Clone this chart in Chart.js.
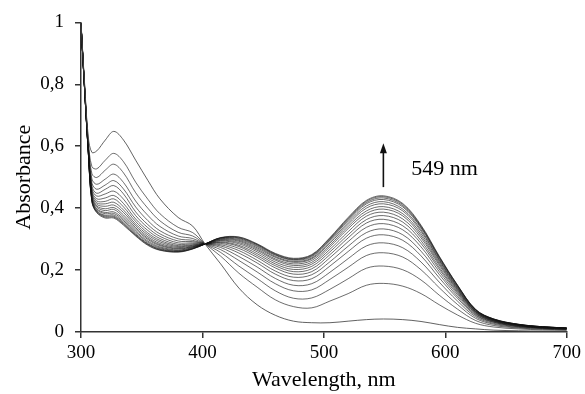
<!DOCTYPE html>
<html>
<head>
<meta charset="utf-8">
<script src="https://cdn.jsdelivr.net/npm/chart.js@4.4.1/dist/chart.umd.min.js"></script>
<style>
  html, body { margin: 0; padding: 0; background: #fff; }
  #wrap { width: 585px; height: 394px; }
</style>
</head>
<body>
<div id="wrap"><canvas id="c" width="585" height="394"></canvas></div>
<script>
// Wavelength sampling points (nm)
const wavelengths = [300,303,306,309,313,320,327,335,345,355,365,380,392,402,415,430,445,460,475,490,505,520,535,549,565,580,595,610,625,640,660,680,700];

// Absorbance spectra, first to last of the titration
const spectrum01 = [1.000,0.800,0.630,0.580,0.585,0.620,0.648,0.620,0.555,0.490,0.430,0.370,0.342,0.285,0.220,0.142,0.088,0.054,0.035,0.030,0.030,0.035,0.040,0.042,0.040,0.034,0.024,0.015,0.010,0.006,0.004,0.003,0.003];
const spectrum02 = [0.999,0.794,0.616,0.534,0.527,0.555,0.577,0.550,0.484,0.429,0.382,0.338,0.321,0.285,0.245,0.190,0.145,0.104,0.082,0.078,0.100,0.124,0.151,0.157,0.148,0.124,0.088,0.055,0.028,0.016,0.010,0.007,0.006];
const spectrum03 = [0.998,0.791,0.609,0.511,0.499,0.523,0.542,0.514,0.450,0.400,0.359,0.322,0.310,0.285,0.257,0.213,0.173,0.133,0.109,0.110,0.138,0.172,0.206,0.213,0.201,0.168,0.119,0.074,0.037,0.021,0.013,0.009,0.007];
const spectrum04 = [0.997,0.789,0.603,0.494,0.477,0.494,0.510,0.483,0.423,0.377,0.341,0.310,0.302,0.285,0.266,0.231,0.194,0.156,0.133,0.136,0.170,0.209,0.247,0.256,0.242,0.201,0.143,0.089,0.044,0.025,0.015,0.011,0.008];
const spectrum05 = [0.997,0.788,0.599,0.481,0.461,0.475,0.489,0.462,0.404,0.360,0.327,0.301,0.296,0.285,0.273,0.244,0.210,0.173,0.151,0.156,0.193,0.237,0.278,0.288,0.272,0.226,0.161,0.100,0.049,0.028,0.017,0.012,0.009];
const spectrum06 = [0.997,0.786,0.596,0.471,0.448,0.461,0.473,0.446,0.388,0.347,0.317,0.294,0.292,0.285,0.278,0.255,0.223,0.187,0.166,0.172,0.213,0.260,0.303,0.314,0.296,0.246,0.175,0.109,0.053,0.031,0.018,0.013,0.010];
const spectrum07 = [0.996,0.785,0.593,0.463,0.439,0.446,0.455,0.429,0.376,0.337,0.309,0.288,0.288,0.285,0.282,0.263,0.232,0.197,0.177,0.185,0.227,0.277,0.321,0.333,0.314,0.261,0.186,0.115,0.056,0.032,0.019,0.013,0.010];
const spectrum08 = [0.996,0.785,0.591,0.456,0.430,0.433,0.441,0.415,0.365,0.328,0.302,0.283,0.285,0.285,0.286,0.270,0.241,0.207,0.187,0.195,0.240,0.292,0.338,0.350,0.330,0.275,0.195,0.121,0.059,0.034,0.020,0.014,0.011];
const spectrum09 = [0.996,0.784,0.590,0.451,0.423,0.422,0.430,0.404,0.357,0.320,0.296,0.279,0.282,0.284,0.289,0.276,0.247,0.214,0.195,0.204,0.250,0.304,0.352,0.364,0.343,0.286,0.203,0.126,0.061,0.035,0.021,0.014,0.011];
const spectrum10 = [0.996,0.783,0.588,0.446,0.417,0.414,0.419,0.394,0.349,0.314,0.291,0.276,0.280,0.284,0.291,0.280,0.253,0.220,0.202,0.212,0.259,0.314,0.363,0.376,0.355,0.295,0.209,0.130,0.063,0.036,0.022,0.015,0.011];
const spectrum11 = [0.996,0.783,0.587,0.441,0.412,0.406,0.410,0.386,0.343,0.308,0.286,0.273,0.278,0.284,0.294,0.285,0.259,0.226,0.209,0.219,0.267,0.324,0.374,0.387,0.365,0.304,0.216,0.134,0.065,0.037,0.022,0.015,0.012];
const spectrum12 = [0.996,0.782,0.585,0.437,0.407,0.398,0.402,0.378,0.337,0.303,0.282,0.270,0.276,0.284,0.296,0.289,0.264,0.232,0.215,0.225,0.275,0.334,0.383,0.397,0.375,0.311,0.221,0.137,0.066,0.038,0.023,0.016,0.012];
const spectrum13 = [0.995,0.782,0.584,0.434,0.403,0.392,0.396,0.371,0.332,0.299,0.279,0.268,0.275,0.284,0.298,0.293,0.268,0.236,0.220,0.231,0.281,0.341,0.391,0.405,0.382,0.318,0.226,0.140,0.067,0.039,0.023,0.016,0.012];
const spectrum14 = [0.995,0.781,0.583,0.430,0.398,0.386,0.388,0.365,0.326,0.294,0.275,0.265,0.273,0.284,0.300,0.296,0.272,0.241,0.225,0.236,0.287,0.348,0.400,0.414,0.391,0.325,0.231,0.143,0.069,0.040,0.024,0.016,0.012];
const spectrum15 = [0.995,0.781,0.582,0.428,0.395,0.382,0.383,0.360,0.322,0.290,0.272,0.263,0.272,0.284,0.301,0.299,0.276,0.244,0.228,0.239,0.292,0.354,0.407,0.421,0.397,0.330,0.234,0.145,0.070,0.040,0.024,0.016,0.013];
const spectrum16 = [0.995,0.781,0.582,0.425,0.391,0.377,0.378,0.355,0.317,0.286,0.269,0.261,0.270,0.284,0.303,0.302,0.279,0.248,0.232,0.243,0.297,0.360,0.414,0.428,0.404,0.336,0.238,0.148,0.071,0.041,0.024,0.017,0.013];
const spectrum17 = [0.995,0.780,0.581,0.423,0.389,0.374,0.374,0.351,0.314,0.284,0.267,0.260,0.269,0.284,0.304,0.304,0.282,0.250,0.234,0.246,0.300,0.364,0.418,0.433,0.408,0.339,0.241,0.150,0.072,0.041,0.025,0.017,0.013];
const spectrum18 = [0.995,0.780,0.580,0.421,0.387,0.371,0.371,0.348,0.312,0.282,0.265,0.259,0.269,0.284,0.304,0.306,0.283,0.252,0.236,0.248,0.303,0.367,0.422,0.437,0.412,0.342,0.243,0.151,0.072,0.042,0.025,0.017,0.013];
const spectrum19 = [0.995,0.780,0.580,0.420,0.385,0.368,0.368,0.345,0.310,0.280,0.264,0.258,0.268,0.284,0.305,0.307,0.285,0.254,0.238,0.250,0.305,0.370,0.425,0.440,0.415,0.345,0.245,0.152,0.073,0.042,0.025,0.017,0.013];

const spectra = [spectrum01,spectrum02,spectrum03,spectrum04,spectrum05,spectrum06,spectrum07,spectrum08,spectrum09,spectrum10,
                 spectrum11,spectrum12,spectrum13,spectrum14,spectrum15,spectrum16,spectrum17,spectrum18,spectrum19];

// Axis ticks and labels
const xTicks = [300, 400, 500, 600, 700];
const yTicks = [0, 0.2, 0.4, 0.6, 0.8, 1];
const yTickLabels = ['0', '0,2', '0,4', '0,6', '0,8', '1'];
const xTitle = 'Wavelength, nm';
const yTitle = 'Absorbance';

// Annotation (data coordinates)
const peakLabel = '549 nm';
const peakWavelength = 549;
const arrowFromAbs = 0.468;
const arrowToAbs = 0.610;
const labelWavelength = 572;
const labelAbs = 0.527;

const serif = "'Liberation Serif', 'Times New Roman', serif";

const datasets = spectra.map((s, i) => ({
  label: 'Spectrum ' + (i + 1),
  data: wavelengths.map((w, j) => ({ x: w, y: s[j] })),
  borderColor: i === 0 ? 'rgba(70,70,70,0.85)' : 'rgba(20,20,20,0.62)',
  borderWidth: 1,
  pointRadius: 0,
  fill: false,
  tension: 0.35
}));

const annotationPlugin = {
  id: 'peakArrow',
  afterDatasetsDraw(chart) {
    const { ctx, scales: { x, y } } = chart;
    const ax = x.getPixelForValue(peakWavelength);
    const y0 = y.getPixelForValue(arrowFromAbs);
    const y1 = y.getPixelForValue(arrowToAbs);
    ctx.save();
    ctx.strokeStyle = '#111';
    ctx.fillStyle = '#111';
    ctx.lineWidth = 1.6;
    ctx.beginPath();
    ctx.moveTo(ax, y0);
    ctx.lineTo(ax, y1 + 8);
    ctx.stroke();
    ctx.beginPath();
    ctx.moveTo(ax, y1);
    ctx.lineTo(ax - 3.5, y1 + 10);
    ctx.lineTo(ax + 3.5, y1 + 10);
    ctx.closePath();
    ctx.fill();
    ctx.font = '22px ' + serif;
    ctx.textAlign = 'left';
    ctx.textBaseline = 'middle';
    ctx.fillStyle = '#000';
    ctx.fillText(peakLabel, x.getPixelForValue(labelWavelength), y.getPixelForValue(labelAbs));
    ctx.restore();
  }
};

new Chart(document.getElementById('c'), {
  type: 'line',
  data: { datasets },
  plugins: [annotationPlugin],
  options: {
    responsive: false,
    animation: false,
    devicePixelRatio: 1,
    layout: { padding: { left: 0, right: 16, top: 21, bottom: 0 } },
    plugins: { legend: { display: false }, tooltip: { enabled: false } },
    scales: {
      x: {
        type: 'linear',
        min: xTicks[0],
        max: xTicks[xTicks.length - 1],
        afterBuildTicks: (scale) => { scale.ticks = xTicks.map(v => ({ value: v })); },
        afterFit: (scale) => { scale.height = 62; },
        ticks: { font: { family: serif, size: 19 }, color: '#000', padding: 4, maxRotation: 0, autoSkip: false },
        grid: { drawOnChartArea: false, drawTicks: true, tickLength: 6, color: '#333', lineWidth: 1.5 },
        border: { display: true, color: '#333', width: 1.5 },
        title: { display: true, text: xTitle, font: { family: serif, size: 22 }, color: '#000', padding: { top: 0, bottom: 1 } }
      },
      y: {
        min: yTicks[0],
        max: yTicks[yTicks.length - 1],
        afterBuildTicks: (scale) => { scale.ticks = yTicks.map(v => ({ value: v })); },
        afterFit: (scale) => { scale.width = 81; },
        ticks: {
          font: { family: serif, size: 19 }, color: '#000', padding: 11, autoSkip: false,
          callback: (v, i) => yTickLabels[i]
        },
        grid: { drawOnChartArea: false, drawTicks: true, tickLength: 6, color: '#333', lineWidth: 1.5 },
        border: { display: true, color: '#333', width: 1.5 },
        title: { display: true, text: yTitle, font: { family: serif, size: 22 }, color: '#000', padding: { top: 11, bottom: 0 } }
      }
    }
  }
});
</script>
</body>
</html>
